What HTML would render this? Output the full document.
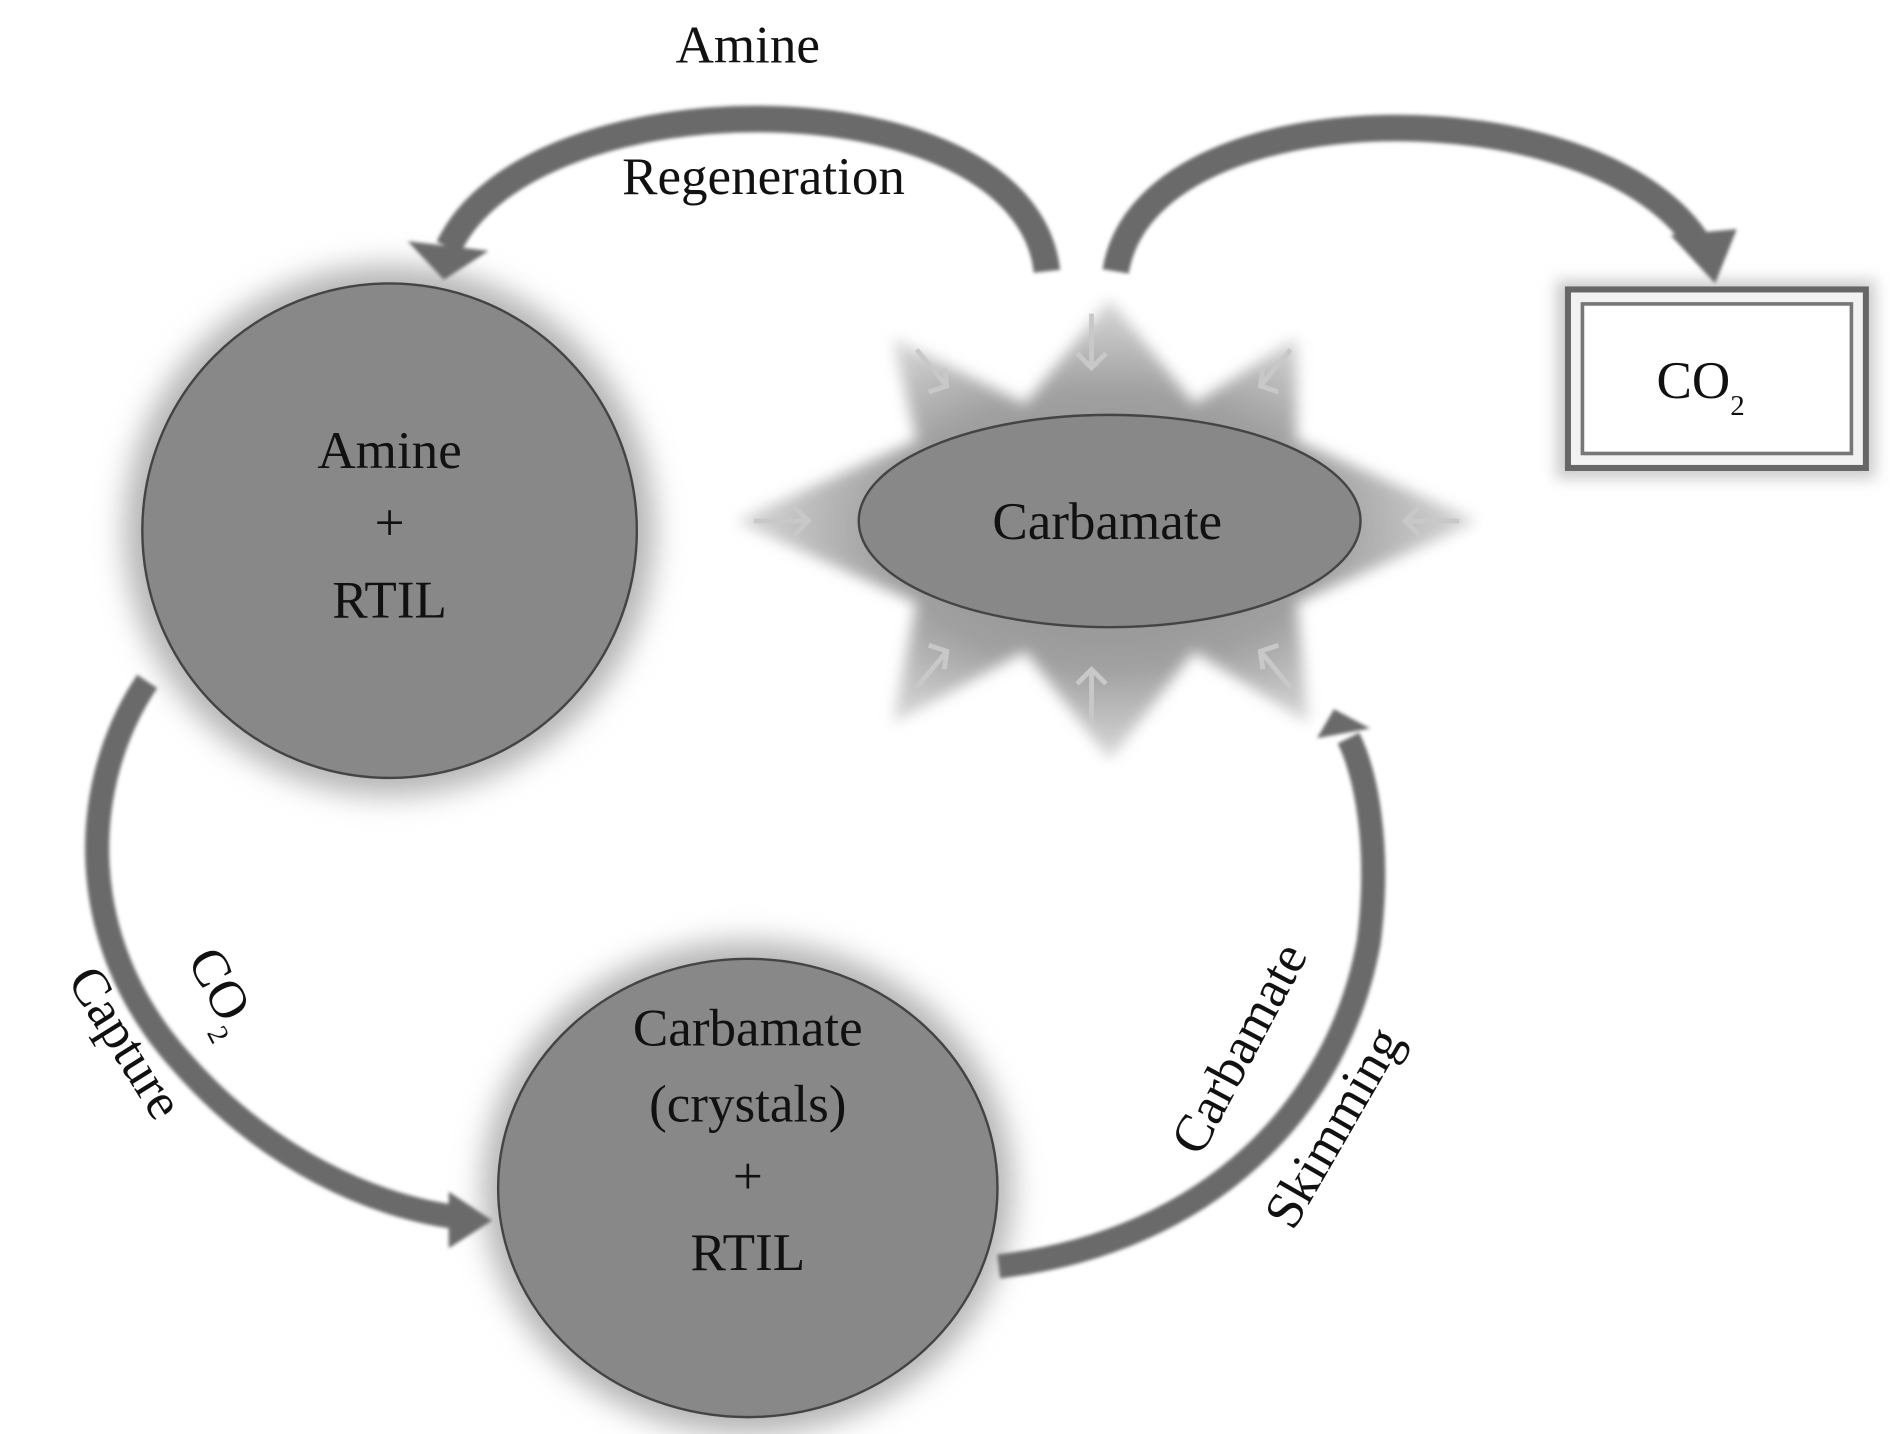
<!DOCTYPE html>
<html><head><style>html,body{margin:0;padding:0;background:#fff}svg{display:block}</style></head>
<body>
<svg width="1890" height="1434" viewBox="0 0 1567 1189" preserveAspectRatio="none" xmlns="http://www.w3.org/2000/svg" font-family="Liberation Serif, serif">
<defs>
<filter id="b" x="-30%" y="-30%" width="160%" height="160%"><feGaussianBlur stdDeviation="12"/></filter>
<filter id="b2" x="-30%" y="-30%" width="160%" height="160%"><feGaussianBlur stdDeviation="6"/></filter>
<filter id="b3" x="-10%" y="-10%" width="120%" height="120%"><feGaussianBlur stdDeviation="1.5"/></filter>
<radialGradient id="g" cx="50%" cy="50%" r="50%"><stop offset="0" stop-color="#8a8a8a"/><stop offset="0.6" stop-color="#a0a0a0"/><stop offset="1" stop-color="#d8d8d8"/></radialGradient>
</defs>
<!-- halos -->
<ellipse cx="323" cy="440" rx="220" ry="220" fill="#b5b5b5" filter="url(#b)"/>
<ellipse cx="620" cy="985" rx="220" ry="205" fill="#b5b5b5" filter="url(#b)"/>
<!-- starburst -->
<polygon points="920,248 990,335 1075,280 1075,365 1225,432 1075,500 1085,600 990,540 920,630 850,540 740,600 760,500 610,432 760,365 740,280 850,335" fill="url(#g)" filter="url(#b2)"/>
<g stroke="#c8c8c8" stroke-width="4" fill="none">
<path d="M905,260 v45 M893,293 l12,12 l12,-12"/>
<path d="M905,600 v-45 M893,567 l12,-12 l12,12"/>
<path d="M625,432 h45 M658,420 l12,12 l-12,12"/>
<path d="M1210,432 h-45 M1177,420 l-12,12 l12,12"/>
<path d="M760,290 l25,30 M770,325 l15,-5 l-2,-15"/>
<path d="M1070,290 l-25,30 M1060,325 l-15,-5 l2,-15"/>
<path d="M760,570 l25,-30 M770,535 l15,5 l-2,15"/>
<path d="M1070,570 l-25,-30 M1060,535 l-15,5 l2,15"/>
</g>
<!-- circles -->
<ellipse cx="323" cy="440" rx="205" ry="205" fill="#888" stroke="#444" stroke-width="2"/>
<ellipse cx="620" cy="985" rx="207" ry="190" fill="#888" stroke="#444" stroke-width="2"/>
<ellipse cx="920" cy="432" rx="208" ry="88" fill="#888" stroke="#444" stroke-width="2"/>
<!-- CO2 box -->
<rect x="1290" y="232" width="265" height="165" fill="#ccc" filter="url(#b2)"/>
<rect x="1300" y="240" width="247" height="148" fill="#f2f2f2" stroke="#666" stroke-width="5"/>
<rect x="1312" y="252" width="223" height="124" fill="#fff" stroke="#777" stroke-width="3"/>
<!-- arrows -->
<g filter="url(#b3)">
<g fill="none" stroke="#6a6a6a" stroke-linecap="butt">
<path d="M868,225 C850,60 440,60 372,205" stroke-width="22"/>
<path d="M925,225 C950,70 1330,70 1410,205" stroke-width="22"/>
<path d="M122,565 C65,650 60,780 150,880 C220,960 310,1002 385,1010" stroke-width="20"/>
<path d="M828,1050 C1000,1030 1110,920 1135,780 C1145,700 1132,640 1118,612" stroke-width="20"/>
</g>
<g fill="#6a6a6a">
<polygon points="338,200 405,208 368,232"/>
<polygon points="1385,195 1440,190 1422,235"/>
<polygon points="372,988 408,1012 372,1035"/>
<polygon points="1092,612 1106,588 1136,604"/>
</g>
</g>
<!-- text -->
<g font-size="44" fill="#111" text-anchor="middle">
<text x="620" y="52">Amine</text>
<text x="633" y="161">Regeneration</text>
<text x="323" y="388">Amine</text>
<text x="323" y="448">+</text>
<text x="323" y="512">RTIL</text>
<text x="918" y="447">Carbamate</text>
<text x="620" y="867">Carbamate</text>
<text x="620" y="930">(crystals)</text>
<text x="620" y="990">+</text>
<text x="620" y="1053">RTIL</text>
<text x="1410" y="330">CO<tspan font-size="24" dy="14">2</tspan></text>
<text transform="translate(172,828) rotate(62)">CO<tspan font-size="24" dy="14">2</tspan></text>
<text transform="translate(92,872) rotate(58)">Capture</text>
<text transform="translate(1040,876) rotate(-62)">Carbamate</text>
<text transform="translate(1118,942) rotate(-60)">Skimming</text>
</g>
</svg>
</body></html>
